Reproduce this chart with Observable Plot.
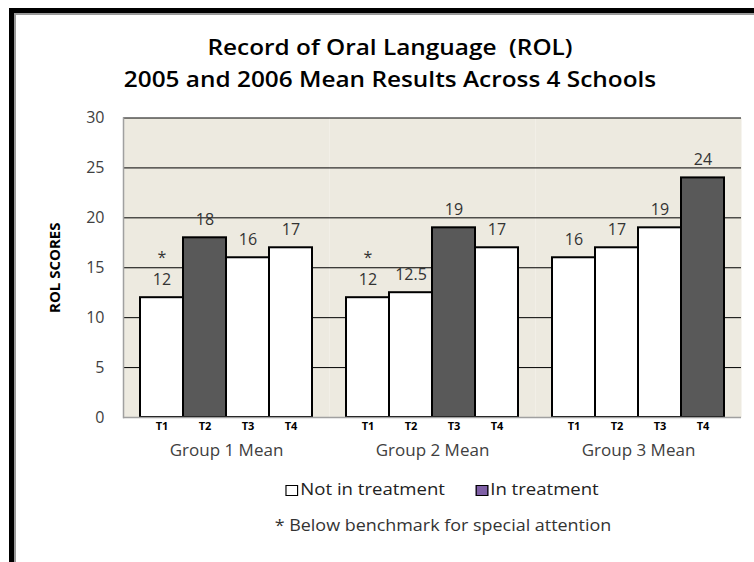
<!DOCTYPE html>
<html>
<head>
<meta charset="utf-8">
<script src="https://cdn.jsdelivr.net/npm/d3@7"></script>
<script src="https://cdn.jsdelivr.net/npm/@observablehq/plot@0.6"></script>
<style>
  html, body { margin: 0; padding: 0; background: #fff; }
  #wrap { position: relative; width: 754px; height: 562px; overflow: hidden; font-family: "Open Sans", sans-serif; }
  #b1 { position: absolute; left: 9px; top: 8px; width: 800px; height: 600px; border-left: 5px solid #000; border-top: 5px solid #000; }
  #b2 { position: absolute; left: 14px; top: 13px; width: 800px; height: 600px; border-left: 2px solid #999; border-top: 2px solid #999; }
  #title { position: absolute; left: 190px; width: 400px; top: 31px; text-align: center; font-weight: 600; font-size: 21px; line-height: 32px; color: #000; white-space: nowrap; transform: scaleX(1.16); }
  #title div { display: flex; justify-content: center; }
  #chart { position: absolute; left: 0; top: 100px; }
  #legend { position: absolute; left: 0; width: 884px; top: 478px; text-align: center; font-size: 16px; color: #222; white-space: nowrap; transform: scaleX(1.16); }
  #legend span.sw { display: inline-block; width: 9px; height: 9px; border: 1.5px solid #000; vertical-align: -1px; margin-right: 2px; }
  #legend span.item { margin: 0 13px; }
  #note { position: absolute; left: 0; width: 886px; top: 514px; text-align: center; font-size: 16px; color: #333; white-space: nowrap; transform: scaleX(1.12); }
  #chart svg g[aria-label="y-axis tick label"] text { fill: #404040; }
  #chart svg g[aria-label="x-axis tick label"] text { font-weight: bold; font-size: 11px; fill: #000; }
  #chart svg g[aria-label="fx-axis tick label"] text { fill: #404040; font-size: 17px; }
</style>
</head>
<body>
<div id="wrap">
  <div id="b1"></div>
  <div id="b2"></div>
  <div id="title"><div>Record of Oral Language&nbsp;&nbsp;(ROL)</div><div>2005 and 2006 Mean Results Across 4 Schools</div></div>
  <div id="chart"></div>
  <div id="legend"><span class="item"><span class="sw" style="background:#fff"></span>Not in treatment</span><span class="item"><span class="sw" style="background:#7f60a6"></span>In treatment</span></div>
  <div id="note">* Below benchmark for special attention</div>
</div>
<script>
const groups = ["Group 1 Mean", "Group 2 Mean", "Group 3 Mean"];
const tests = ["T1", "T2", "T3", "T4"];
const group1 = [12, 18, 16, 17];
const group2 = [12, 12.5, 19, 17];
const group3 = [16, 17, 19, 24];
const inTreatment = [
  [false, true, false, false],
  [false, false, true, false],
  [false, false, false, true]
];
const belowBenchmark = [
  [true, false, false, false],
  [true, false, false, false],
  [false, false, false, false]
];
const yTicks = [0, 5, 10, 15, 20, 25, 30];
const gridLines = [5, 10, 15, 20, 25, 30];
const yLabel = "ROL SCORES";

const series = [group1, group2, group3];
const data = [];
groups.forEach((g, gi) => tests.forEach((t, ti) => data.push({
  group: g, test: t, value: series[gi][ti],
  status: inTreatment[gi][ti] ? "In treatment" : "Not in treatment",
  below: belowBenchmark[gi][ti]
})));

const chart = Plot.plot({
  width: 754,
  height: 360,
  marginLeft: 123,
  marginRight: 13,
  marginTop: 17.5,
  marginBottom: 43,
  style: { fontFamily: "Open Sans, sans-serif", fontSize: "16px", background: "transparent", overflow: "visible" },
  fx: { domain: groups, padding: 0, label: null, axis: null },
  x: { domain: tests, paddingInner: 0, paddingOuter: 0.38, label: null, axis: null },
  y: { domain: [0, 30], label: null, axis: null },
  color: { domain: ["Not in treatment", "In treatment"], range: ["#ffffff", "#595959"] },
  marks: [
    Plot.frame({ fill: "#edeae0", stroke: null }),
    Plot.ruleY(gridLines, { stroke: "#000", strokeWidth: 1 }),
    Plot.axisY({ ticks: yTicks, tickSize: 0, tickPadding: 19, label: null, fontSize: 16 }),
    Plot.text([yLabel], { text: d => d, frameAnchor: "left", textAnchor: "middle", rotate: -90, dx: -68, fontWeight: "bold", fontSize: 15, fill: "#000", facet: "super" }),
    Plot.barY(data, { fx: "group", x: "test", y: "value", fill: "status", stroke: "#000", strokeWidth: 2 }),
    Plot.frame({ anchor: "left", stroke: "#a0a0a0", strokeWidth: 1.5, facet: "super" }),
    Plot.ruleY([0], { stroke: "#a0a0a0", strokeWidth: 1.5 }),
    Plot.text(data, { fx: "group", x: "test", y: "value", text: d => String(d.value), dy: -18, fill: "#333", fontSize: 16 }),
    Plot.text(data.filter(d => d.below), { fx: "group", x: "test", y: "value", text: () => "*", dy: -40, fill: "#333", fontSize: 16 }),
    Plot.axisX({ tickSize: 0, tickPadding: 5, label: null }),
    Plot.axisFx({ anchor: "bottom", tickSize: 0, tickPadding: 26, label: null })
  ]
});
document.getElementById("chart").appendChild(chart);
</script>
</body>
</html>
